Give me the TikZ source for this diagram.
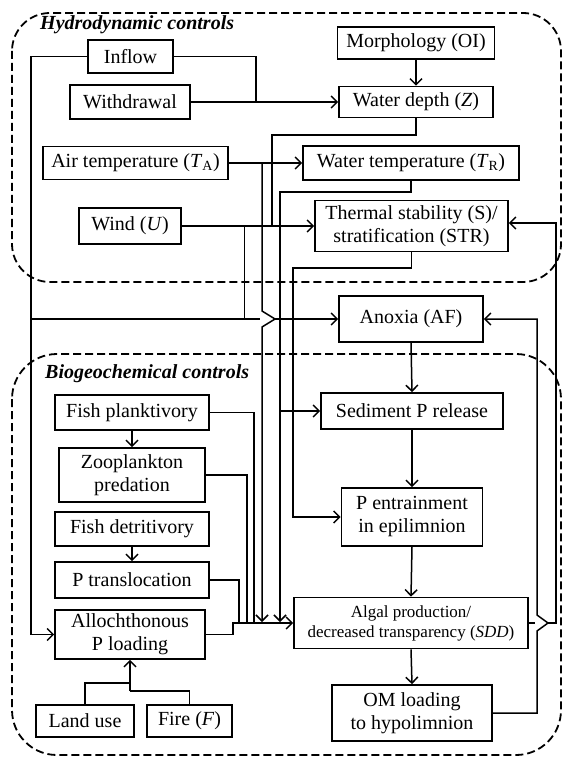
\documentclass[tikz,border=0pt]{standalone}
\usepackage{fontspec}
\setmainfont{Liberation Serif}
\usetikzlibrary{arrows.meta}
\begin{document}
\begin{tikzpicture}[x=1pt,y=-1pt,
  box/.style={draw, line width=1.7pt, inner sep=0pt, align=center, font=\fontsize{20}{23}\selectfont},
  conn/.style={line width=1.5pt},
  arr/.style={line width=1.5pt, -{Straight Barb[length=6pt,width=12pt,line width=1.5pt]}},
  thinconn/.style={line width=0.8pt},
  group/.style={draw, dash pattern=on 8pt off 4pt, line width=1.8pt},
  grouplabel/.style={anchor=base west, inner sep=0pt, font=\fontsize{20}{23}\selectfont\bfseries\itshape}]
\useasboundingbox (0,0) rectangle (564,759);
% containers
\draw[group, rounded corners=38pt] (12,13) rectangle (561,282);
\draw[group, rounded corners=45pt] (12,354) rectangle (561,755);
\node[grouplabel] (hlab) at (40,30) {Hydrodynamic controls};
\node[grouplabel] (blab) at (45,378) {Biogeochemical controls};
% hydrodynamic boxes
\node[box, minimum width=85pt, minimum height=33pt] (inflow) at (130.5,56.5) {Inflow};
\node[box, minimum width=120pt, minimum height=34pt] (withdrawal) at (130,102) {Withdrawal};
\node[box, minimum width=185pt, minimum height=33pt] (airT) at (135.5,163) {Air temperature (\textit{T}\textsubscript{A})};
\node[box, minimum width=102pt, minimum height=36pt] (wind) at (130,226) {Wind (\textit{U})};
\node[box, minimum width=157pt, minimum height=32pt] (morph) at (416,43) {Morphology (OI)};
\node[box, minimum width=154pt, minimum height=31pt] (depth) at (416,102) {Water depth (\textit{Z})};
\node[box, minimum width=216pt, minimum height=34pt] (waterT) at (411,163) {Water temperature (\textit{T}\textsubscript{R})};
\node[box, minimum width=193pt, minimum height=51pt] (thermal) at (411.5,226) {Thermal stability (S)/\\stratification (STR)};
\node[box, minimum width=144pt, minimum height=46pt] (anoxia) at (411,319) {Anoxia (AF)};
% biogeochemical boxes
\node[box, minimum width=182pt, minimum height=36pt] (sediment) at (412,411) {Sediment P release};
\node[box, minimum width=141pt, minimum height=58pt] (entrain) at (412,517) {P entrainment\\in epilimnion};
\node[box, minimum width=234pt, minimum height=51pt, font=\fontsize{17}{20}\selectfont] (algal) at (411,623) {Algal production/\\decreased transparency (\textit{SDD})};
\node[box, minimum width=160pt, minimum height=56pt] (om) at (412,713) {OM loading\\to hypolimnion};
\node[box, minimum width=154pt, minimum height=35pt] (fishP) at (132,412.5) {Fish planktivory};
\node[box, minimum width=146pt, minimum height=54pt] (zoo) at (132,475) {Zooplankton\\predation};
\node[box, minimum width=154pt, minimum height=34pt] (fishD) at (132,529) {Fish detritivory};
\node[box, minimum width=154pt, minimum height=36pt] (ptrans) at (132,580) {P translocation};
\node[box, minimum width=150pt, minimum height=49pt] (alloch) at (130,634.5) {Allochthonous\\P loading};
\node[box, minimum width=98pt, minimum height=32pt] (land) at (85,721) {Land use};
\node[box, minimum width=85pt, minimum height=32pt] (fire) at (189.5,721) {Fire (\textit{F})};
% coordinates
\coordinate (trunkA) at (31,319);
\coordinate (gapL) at (260,319);
\coordinate (gapR) at (275,319);
\coordinate (windJ) at (244,226);
\coordinate (inJ) at (256,102);
\coordinate (depthB) at (272,135);
\coordinate (airJ) at (262,163);
\coordinate (airB1) at (262,311);
\coordinate (airB2) at (275,319);
\coordinate (airB3) at (262,327);
\coordinate (airE) at (262,622);
\coordinate (wtB) at (280,192);
\coordinate (wtE) at (280,622);
\coordinate (tsB) at (293,268);
\coordinate (omB1) at (537,631);
\coordinate (omB2) at (548,623);
\coordinate (omB3) at (537,615);
\coordinate (alE) at (535,623);
\coordinate (tsR) at (556,223);
\coordinate (busL) at (233,623);
\coordinate (pt) at (239,623);
\coordinate (zp) at (247,623);
\coordinate (fp) at (254,623);
\coordinate (lfJ) at (130,683);
\coordinate (frJ) at (130,691);
% hydrodynamic connectors
\draw[arr] (inflow.west) -| (trunkA) |- (alloch.west);
\draw[conn] (trunkA) -- (gapL);
\draw[arr] (gapR) -- (anoxia.west);
\draw[thinconn] (windJ) -- (windJ |- trunkA);
\draw[conn] (inflow.east) -| (inJ);
\draw[arr] (withdrawal.east) -- (depth.west);
\draw[arr] (morph.south) -- (depth.north);
\draw[conn] (depth.south) |- (depthB) -- (depthB |- wind.east);
\draw[arr] (wind.east) -- (thermal.west);
\draw[arr] (airT.east) -- (waterT.west);
\draw[arr] (airJ) -- (airB1) -- (airB2) -- (airB3) -- (airE);
\draw[arr] (waterT.south) |- (wtB) -- (wtE);
\draw[arr] (wtB |- sediment.west) -- (sediment.west);
\draw[arr] (thermal.south) |- (tsB) |- (entrain.west);
% central chain
\draw[arr] (anoxia.south) -- (sediment.north);
\draw[arr] (sediment.south) -- (entrain.north);
\draw[arr] (entrain.south) -- (algal.north);
\draw[arr] (algal.south) -- (om.north);
% feedbacks
\draw[arr] (om.east) -| (omB1) -- (omB2) -- (omB3) |- (anoxia.east);
\draw[conn] (algal.east) -- (alE);
\draw[arr] (omB2) -| (tsR) -- (thermal.east |- tsR);
% biogeochemical inputs
\draw[arr] (alloch.east) -| (busL) -- (algal.west);
\draw[conn] (ptrans.east) -| (pt);
\draw[conn] (zoo.east) -| (zp);
\draw[conn] (fishP.east) -| (fp);
\draw[arr] (fishP.south) -- (zoo.north);
\draw[arr] (fishD.south) -- (ptrans.north);
\draw[conn] (land.north) |- (lfJ);
\draw[conn] (fire.north) |- (frJ);
\draw[arr] (frJ) -- (alloch.south);
\end{tikzpicture}
\end{document}
